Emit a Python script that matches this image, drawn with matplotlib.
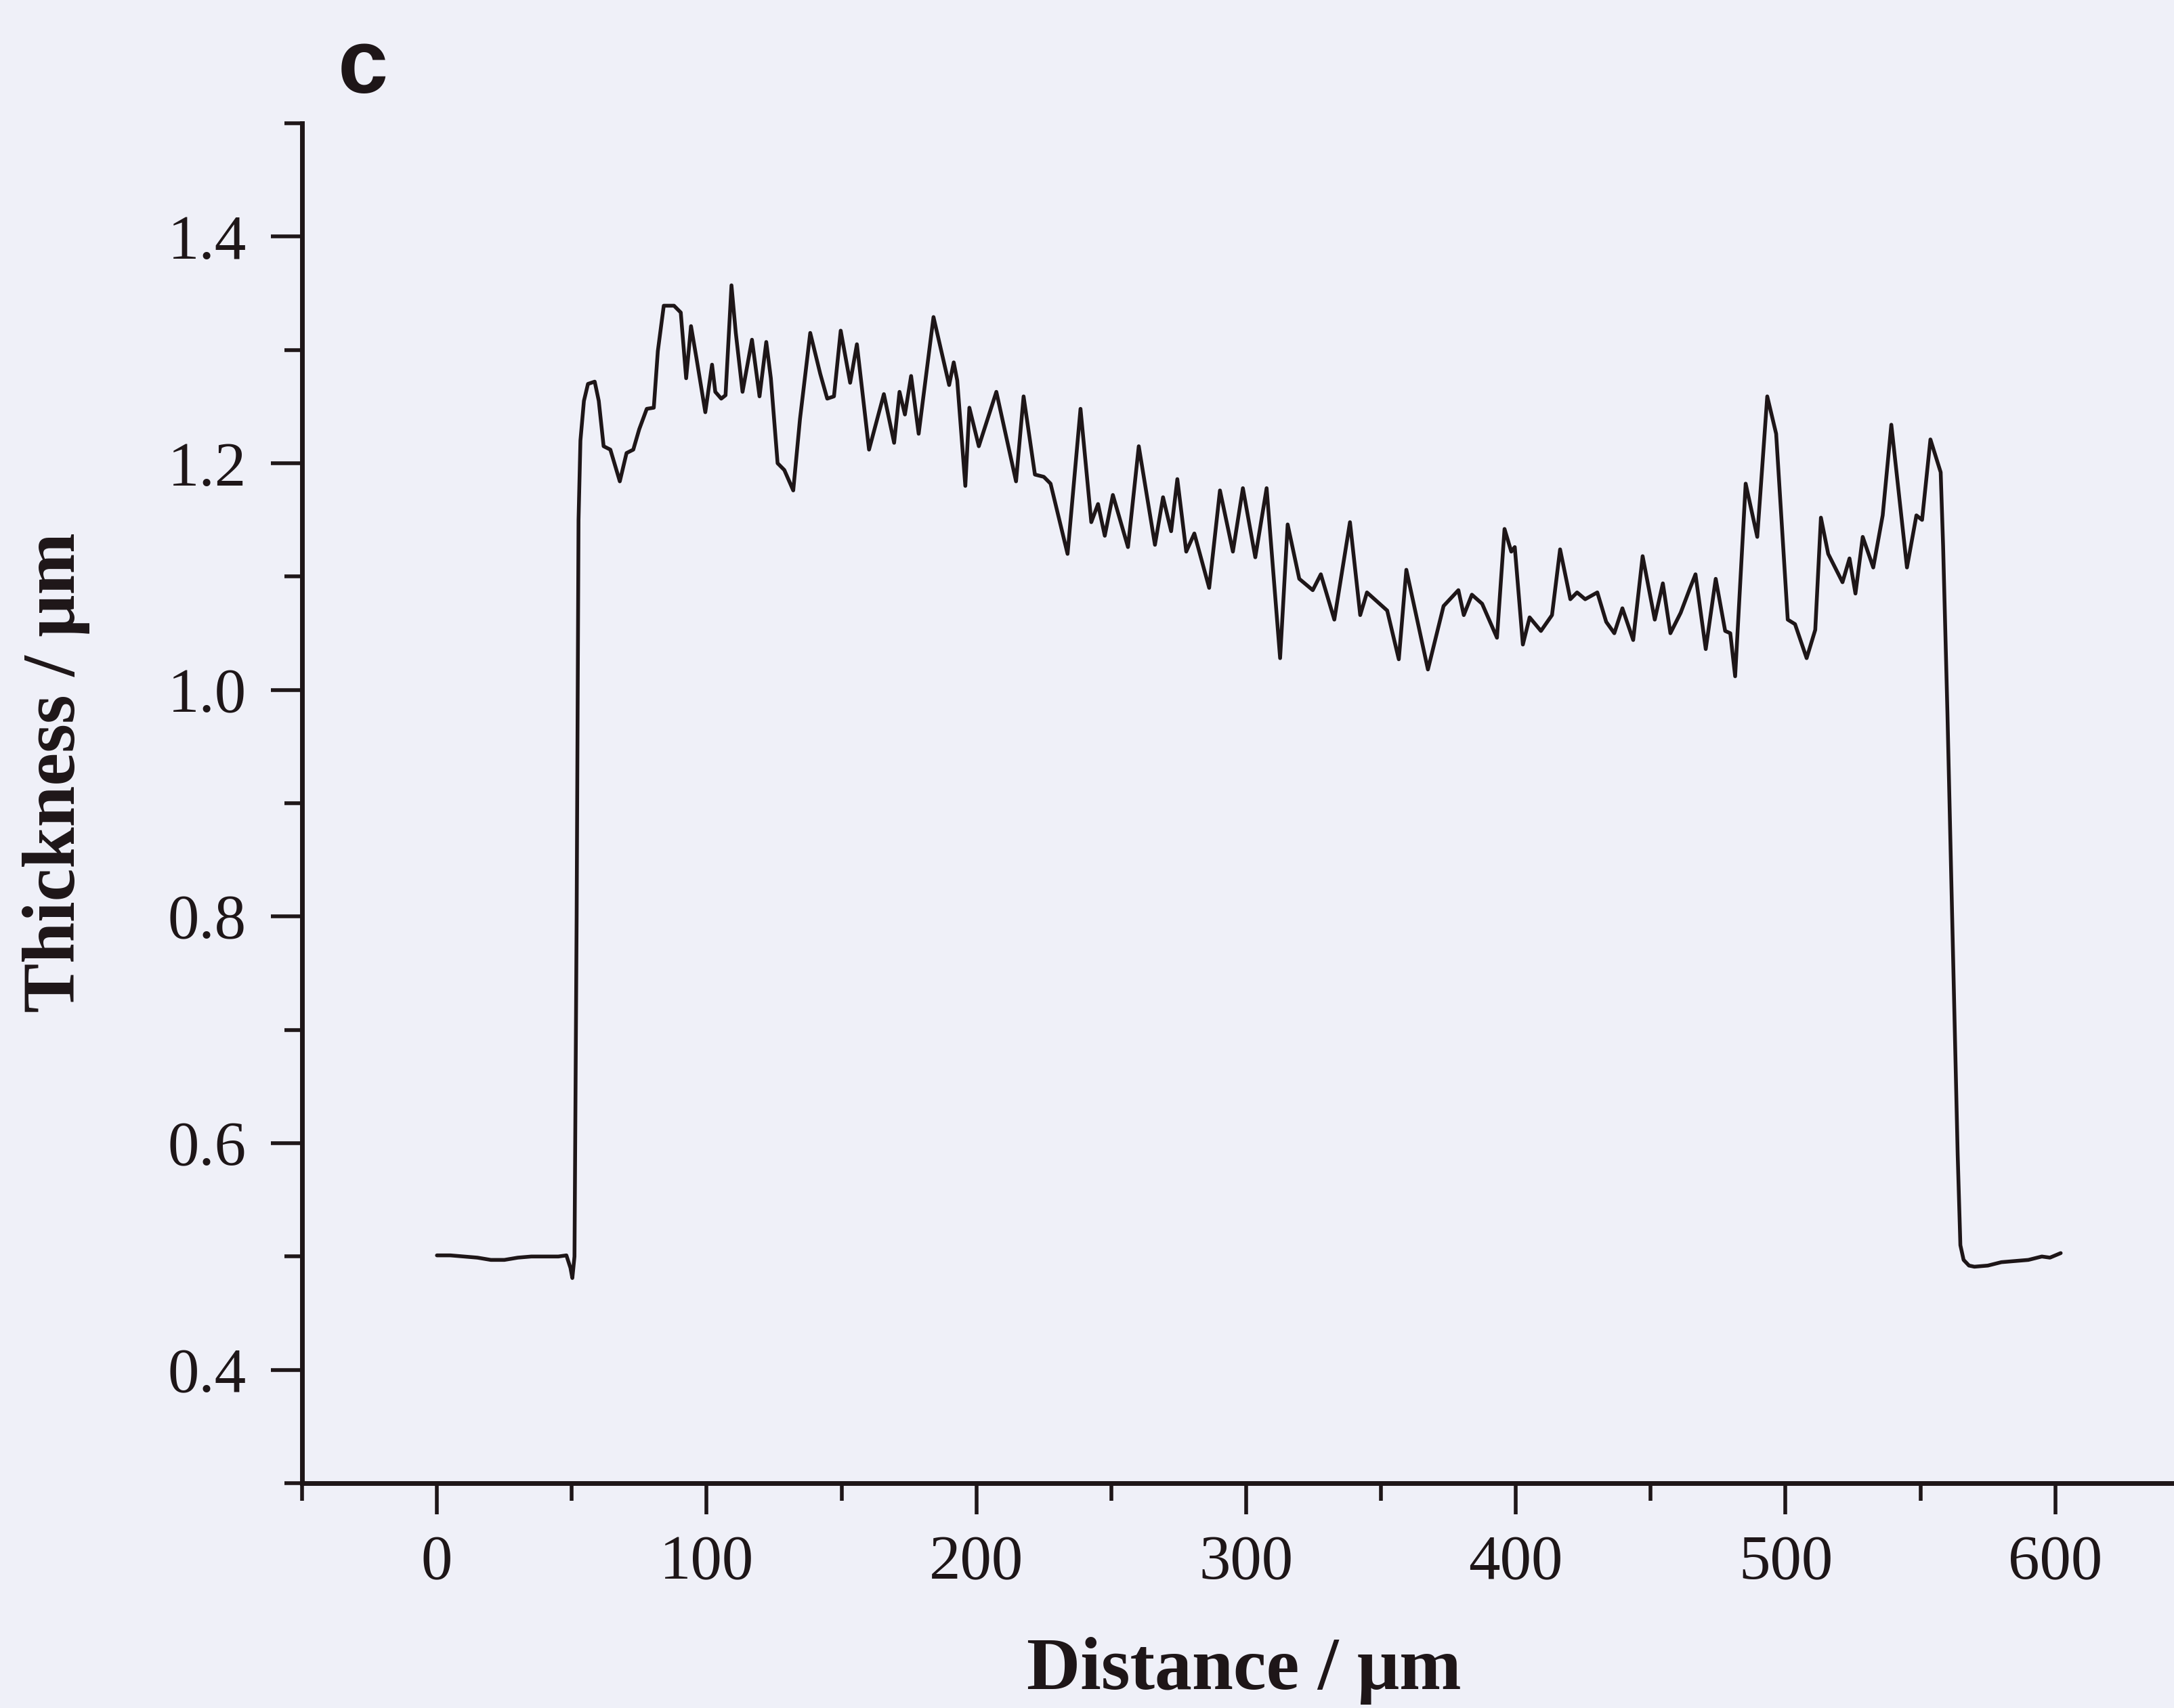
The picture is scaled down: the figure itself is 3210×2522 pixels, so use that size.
import matplotlib
matplotlib.use("Agg")
import matplotlib.pyplot as plt
from matplotlib.ticker import MultipleLocator

# Thickness profile across the film
distance_um = [
    0, 5, 10, 15, 20, 25, 30, 35, 40, 45, 48, 49.5, 50.2, 51.0, 51.8, 52.5, 53.2,
    54.5, 56, 58.5, 60, 61.8, 64.3, 67.8, 70.3, 72.8, 75, 77.8, 80.4, 81.9, 84.1,
    87.9, 90.4, 92.4, 94.2, 96.2, 99.5, 102, 103.2, 105.4, 107, 109.2, 110.8, 113.3,
    116.8, 119.6, 122.1, 123.8, 126.3, 128.8, 132.1, 134.6, 138.4, 142.1, 144.7,
    147.2, 149.7, 153.2, 155.7, 160.2, 165.7, 169.5, 171.5, 173.5, 175.8, 178.6,
    184.1, 189.9, 191.6, 192.9, 195.9, 197.4, 200.9, 207.4, 214.7, 217.5, 221.7,
    225, 227.5, 233.8, 238.6, 242.6, 245.1, 247.6, 250.6, 256.2, 260.2, 266.2,
    269.2, 272.2, 274.5, 277.8, 280.8, 286.3, 290.3, 295.1, 298.8, 303.4, 307.6,
    312.6, 315.4, 319.7, 324.7, 327.7, 332.7, 338.5, 342.3, 344.8, 352.3, 356.6,
    359.4, 367.4, 373.2, 378.7, 380.7, 383.7, 387.5, 393, 395.8, 398.3, 399.6,
    402.6, 405.1, 409.3, 413.4, 416.4, 420.2, 422.7, 425.7, 430.2, 433.5, 436.5,
    439.5, 443.5, 447.0, 451.5, 454.5, 457.3, 461.1, 464.6, 466.6, 470.4, 474.1,
    477.6, 479.5, 481.3, 485.2, 489.5, 493.2, 496.5, 500.8, 503.5, 507.8, 511,
    513.1, 515.8, 521.1, 523.7, 525.9, 528.6, 532.5, 536, 539.2, 545, 548.5,
    550.6, 553.7, 557.5, 558.4, 560, 563.8, 564.8, 566, 568, 570, 575, 580, 585,
    590, 595, 598, 602,
]
thickness_um = [
    0.501, 0.501, 0.500, 0.499, 0.497, 0.497, 0.499, 0.500, 0.500, 0.500, 0.501,
    0.490, 0.481, 0.500, 0.800, 1.150, 1.220,
    1.255, 1.270, 1.272, 1.255, 1.215, 1.212, 1.184, 1.209, 1.212, 1.230, 1.248,
    1.249, 1.299, 1.339,
    1.339, 1.333, 1.275, 1.321, 1.293, 1.245, 1.287, 1.263, 1.257, 1.260, 1.357,
    1.315, 1.263,
    1.309, 1.259, 1.307, 1.275, 1.200, 1.194, 1.176, 1.239, 1.315, 1.279, 1.257,
    1.259, 1.317, 1.271, 1.305, 1.212, 1.261, 1.218, 1.263, 1.243, 1.277, 1.226,
    1.329, 1.269, 1.289, 1.273, 1.180, 1.249, 1.215, 1.263, 1.184, 1.259, 1.190,
    1.188, 1.182, 1.120, 1.248, 1.148, 1.164, 1.136, 1.172, 1.126, 1.215, 1.128,
    1.170, 1.140, 1.186, 1.122, 1.138, 1.090, 1.176, 1.122, 1.178, 1.117, 1.178,
    1.028, 1.146, 1.098, 1.088, 1.102, 1.062, 1.148, 1.066, 1.086, 1.070, 1.027,
    1.106, 1.018, 1.074, 1.088, 1.066, 1.084, 1.076, 1.046, 1.142, 1.122, 1.126,
    1.040, 1.064, 1.052, 1.066, 1.124, 1.080, 1.086, 1.080, 1.086, 1.060, 1.050,
    1.072, 1.044, 1.118, 1.062, 1.094, 1.050, 1.068, 1.090, 1.102, 1.036, 1.098,
    1.052, 1.050, 1.012, 1.182, 1.135, 1.259, 1.226, 1.062, 1.058, 1.028, 1.053,
    1.152, 1.120, 1.095, 1.116, 1.085, 1.135, 1.108, 1.154, 1.234, 1.108, 1.154,
    1.150, 1.221, 1.192, 1.127, 0.980, 0.590, 0.510, 0.497, 0.492, 0.491, 0.492,
    0.495, 0.496, 0.497, 0.500, 0.499, 0.503,
]

x_ticks = [0, 100, 200, 300, 400, 500, 600]
y_ticks = [0.4, 0.6, 0.8, 1.0, 1.2, 1.4]

BG = "#eff0f8"
INK = "#1e1618"
W, H = 3210, 2522

fig = plt.figure(figsize=(W / 100, H / 100), dpi=100, facecolor=BG)
ax = fig.add_axes([446 / W, 1 - 2190 / H, (W - 446) / W, (2190 - 182) / H])
ax.set_facecolor(BG)

ax.plot(distance_um, thickness_um, color=INK, lw=4.0,
        solid_joinstyle="round", solid_capstyle="round")

ax.set_xlim(-50, 644)
ax.set_ylim(0.3, 1.5)
ax.set_xticks(x_ticks)
ax.set_yticks(y_ticks)
ax.set_yticklabels([f"{v:.1f}" for v in y_ticks])
ax.xaxis.set_minor_locator(MultipleLocator(50))
ax.yaxis.set_minor_locator(MultipleLocator(0.1))

for side in ("top", "right"):
    ax.spines[side].set_visible(False)
for side in ("left", "bottom"):
    ax.spines[side].set_linewidth(5)
    ax.spines[side].set_color(INK)

ax.tick_params(which="major", length=33, width=4, color=INK, direction="out")
ax.tick_params(which="minor", length=19, width=4, color=INK, direction="out")
ax.tick_params(axis="x", which="major", pad=22)
ax.tick_params(axis="y", which="major", pad=26)
for lab in ax.get_xticklabels() + ax.get_yticklabels():
    lab.set_fontfamily("Liberation Serif")
    lab.set_fontsize(67)
    lab.set_color(INK)

fig.text(1837 / W, 1 - 2494 / H, "Distance / μm", ha="center", va="baseline",
         fontsize=79, fontweight="bold", family="Liberation Serif", color=INK)
fig.text(110 / W, 1 - 1141 / H, "Thickness / μm", ha="center", va="baseline",
         rotation=90, rotation_mode="anchor",
         fontsize=79, fontweight="bold", family="Liberation Serif", color=INK)
fig.text(499 / W, 1 - 137 / H, "c", ha="left", va="baseline",
         fontsize=96, fontweight="bold", family="Liberation Sans", color=INK)

fig.savefig("out.png", dpi=100, facecolor=BG)
